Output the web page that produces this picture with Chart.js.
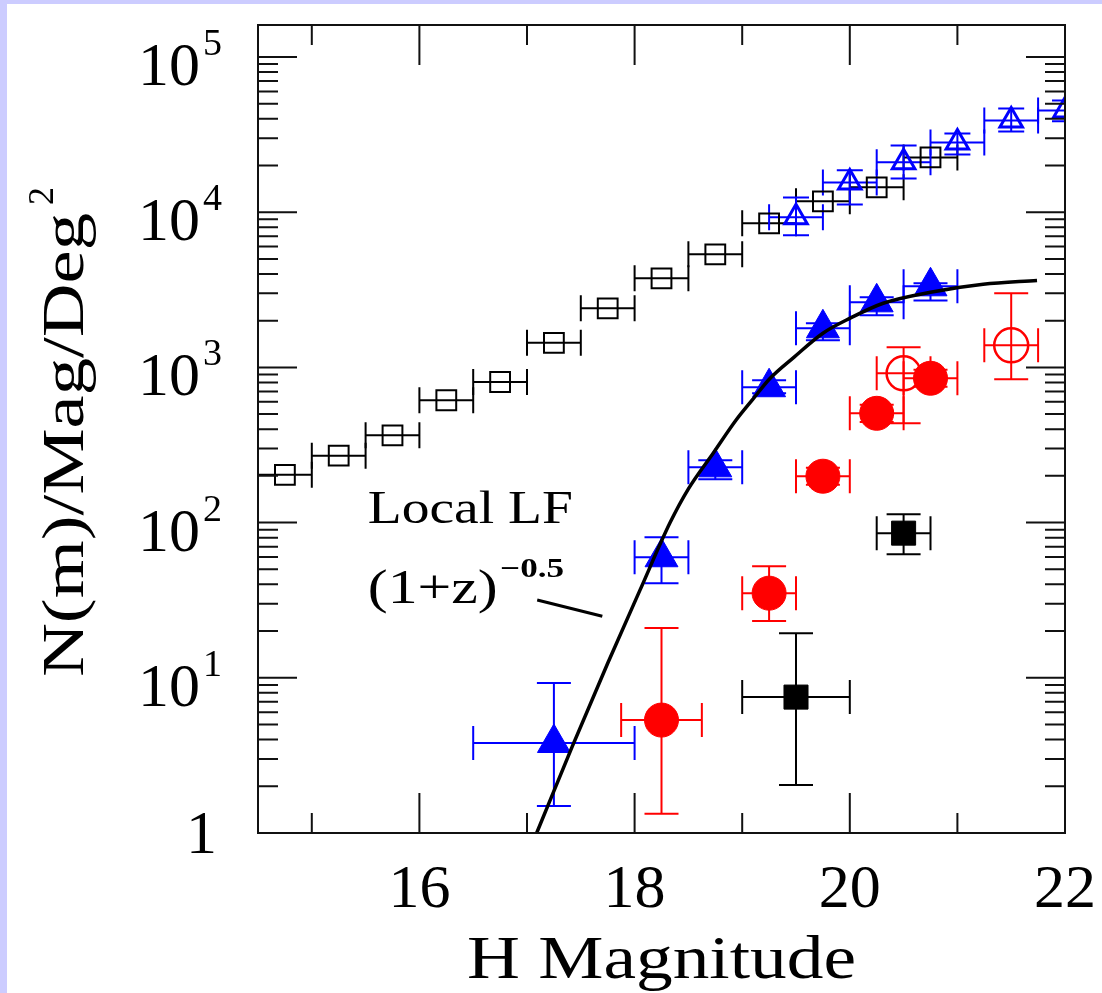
<!DOCTYPE html>
<html>
<head>
<meta charset="utf-8">
<script src="https://cdn.jsdelivr.net/npm/chart.js@4"></script>
<style>
  html, body { margin: 0; padding: 0; background: #fff; }
  canvas { display: block; }
</style>
</head>
<body>
<canvas id="c" width="1102" height="993"></canvas>
<script>
// ---- data ----
// all galaxies, open black squares
const allX = [14.75, 15.25, 15.75, 16.25, 16.75, 17.25, 17.75, 18.25, 18.75, 19.25, 19.75, 20.25, 20.75];
const allY = [203, 270, 365, 614, 805, 1440, 2400, 3750, 5350, 8470, 11740, 14450, 22540];

// deep counts, open blue triangles
const deepX = [19.5, 20.0, 20.5, 21.0, 21.5, 22.0];
const deepY = [9270, 15550, 20940, 28150, 39000, 45200];
const deepYLo = [7090, 11220, 16500, 23560, 33150, 38500];
const deepYHi = [12450, 18600, 26900, 32150, 46600, 52500];

// filled blue triangles
const triX = [17.25, 18.25, 18.75, 19.25, 19.75, 20.25, 20.75];
const triY = [3.8, 59.8, 227, 745, 1786, 2625, 3330];
const triXLo = [16.5, 18.0, 18.5, 19.0, 19.5, 20.0, 20.5];
const triXHi = [18.0, 18.5, 19.0, 19.5, 20.0, 20.5, 21.0];
const triYLo = [1.49, 40.7, 190, 681, 1495, 2165, 2700];
const triYHi = [9.25, 80.5, 252, 826, 1923, 2830, 3480];

// filled red circles
const redX = [18.25, 19.25, 19.75, 20.25, 20.75];
const redY = [5.34, 35.1, 199, 506, 851];
const redXLo = [17.875, 19.0, 19.5, 20.0, 20.5];
const redXHi = [18.625, 19.5, 20.0, 20.5, 21.0];
const redYLo = [1.33, 23.2, 175, 445, 750];
const redYHi = [20.9, 52.4, 226, 575, 965];

// open red circles
const redOpenX = [20.5, 21.5];
const redOpenY = [916, 1387];
const redOpenYLo = [437, 838];
const redOpenYHi = [1347, 3000];

// filled black squares
const blkX = [19.5, 20.5];
const blkY = [7.51, 85.5];
const blkXLo = [19.0, 20.25];
const blkXHi = [20.0, 20.75];
const blkYLo = [2.04, 62.6];
const blkYHi = [19.4, 113];

// local LF model curve
const lfX = [17.09, 17.42, 17.75, 18.05, 18.33, 18.5, 18.73, 18.94, 19.1, 19.26, 19.48, 19.75, 20.0, 20.31, 20.75, 21.24, 21.74];
const lfY = [1, 3.6, 12.4, 36.7, 100, 165, 280, 455, 625, 851, 1161, 1660, 2070, 2590, 3050, 3430, 3635];

// axes
const xTicks = [15, 16, 17, 18, 19, 20, 21, 22];
const xMajor = [16, 18, 20, 22];
const xTickLabels = ['16', '18', '20', '22'];
const yDecades = [1, 10, 100, 1000, 10000, 100000];
const yExpLabels = ['', '1', '2', '3', '4', '5'];

const FONT = '"Liberation Serif", "DejaVu Serif", serif';
const BLUE = '#0000ff', RED = '#ff0000', BLACK = '#000000';

const pts = (xs, ys) => xs.map((x, i) => ({x: x, y: ys[i]}));
const sym = (xs, w) => xs.map(x => x - w);
const symHi = (xs, w) => xs.map(x => x + w);

function drawFit(ctx, text, x, y, size, width, align, weight) {
  ctx.save();
  ctx.font = (weight || '') + ' ' + size + 'px ' + FONT;
  const w = ctx.measureText(text).width;
  const s = width ? width / w : 1;
  const tw = w * s;
  let x0 = x;
  if (align === 'center') x0 = x - tw / 2;
  else if (align === 'right') x0 = x - tw;
  ctx.translate(x0, y);
  ctx.scale(s, 1);
  ctx.textAlign = 'left';
  ctx.textBaseline = 'alphabetic';
  ctx.fillStyle = '#000';
  ctx.fillText(text, 0, 0);
  ctx.restore();
  return tw;
}

const background = {
  id: 'background',
  beforeDraw(chart) {
    const ctx = chart.ctx;
    ctx.save();
    ctx.fillStyle = '#fff';
    ctx.fillRect(0, 0, chart.width, chart.height);
    ctx.fillStyle = '#ccccff';
    ctx.fillRect(0, 0, chart.width, 4);
    ctx.fillRect(0, 0, 7, chart.height);
    ctx.restore();
  }
};

const errorBars = {
  id: 'errorBars',
  beforeDatasetsDraw(chart) {
    const ctx = chart.ctx, xs = chart.scales.x, ys = chart.scales.y, a = chart.chartArea;
    ctx.save();
    ctx.beginPath();
    ctx.rect(a.left, a.top, a.right - a.left, a.bottom - a.top);
    ctx.clip();
    chart.data.datasets.forEach(ds => {
      const e = ds.err;
      if (!e) return;
      ctx.strokeStyle = ds.borderColor;
      ctx.lineWidth = 2;
      const c = e.cap;
      ds.data.forEach((p, i) => {
        const px = xs.getPixelForValue(p.x), py = ys.getPixelForValue(p.y);
        ctx.beginPath();
        if (e.xLo) {
          const l = xs.getPixelForValue(e.xLo[i]), r = xs.getPixelForValue(e.xHi[i]);
          ctx.moveTo(l, py); ctx.lineTo(r, py);
          ctx.moveTo(l, py - c); ctx.lineTo(l, py + c);
          ctx.moveTo(r, py - c); ctx.lineTo(r, py + c);
        }
        if (e.yLo) {
          const t = ys.getPixelForValue(e.yHi[i]), b = ys.getPixelForValue(e.yLo[i]);
          ctx.moveTo(px, t); ctx.lineTo(px, b);
          ctx.moveTo(px - c, t); ctx.lineTo(px + c, t);
          ctx.moveTo(px - c, b); ctx.lineTo(px + c, b);
        }
        ctx.stroke();
      });
    });
    ctx.restore();
  }
};

const frame = {
  id: 'frame',
  afterDraw(chart) {
    const ctx = chart.ctx, xs = chart.scales.x, ys = chart.scales.y, a = chart.chartArea;
    ctx.save();
    ctx.strokeStyle = '#111';
    ctx.lineWidth = 2;
    ctx.strokeRect(a.left, a.top, a.right - a.left, a.bottom - a.top);
    ctx.beginPath();
    xTicks.forEach(v => {
      const px = xs.getPixelForValue(v);
      const len = xMajor.includes(v) ? 40 : 20;
      ctx.moveTo(px, a.bottom); ctx.lineTo(px, a.bottom - len);
      ctx.moveTo(px, a.top); ctx.lineTo(px, a.top + len);
    });
    yDecades.forEach(d => {
      for (let k = 1; k <= 9; k++) {
        const v = d * k;
        if (v > ys.max) break;
        const py = ys.getPixelForValue(v);
        const len = k === 1 ? 39 : 20;
        ctx.moveTo(a.left, py); ctx.lineTo(a.left + len, py);
        ctx.moveTo(a.right, py); ctx.lineTo(a.right - len, py);
      }
    });
    ctx.stroke();

    // tick labels
    xTickLabels.forEach((t, i) => {
      drawFit(ctx, t, xs.getPixelForValue(xMajor[i]), 907, 62, 0, 'center');
    });
    yDecades.forEach((d, i) => {
      const py = ys.getPixelForValue(d);
      if (i === 0) {
        drawFit(ctx, '1', 217, py + 20, 62, 0, 'right');
      } else {
        drawFit(ctx, yExpLabels[i], 222, py - 2, 38, 0, 'right');
        drawFit(ctx, '10', 200, py + 28, 62, 0, 'right');
      }
    });

    // axis titles
    drawFit(ctx, 'H Magnitude', (a.left + a.right) / 2, 978, 62, 389, 'center');
    ctx.save();
    ctx.translate(83, 677);
    ctx.rotate(-Math.PI / 2);
    drawFit(ctx, 'N(m)/Mag/Deg', 0, 0, 60, 464, 'left');
    drawFit(ctx, '2', 472, -30, 36, 0, 'left');
    ctx.restore();

    // model annotation
    const tx = xs.getPixelForValue(15.52);
    drawFit(ctx, 'Local LF', tx, ys.getPixelForValue(99), 46, 205, 'left');
    drawFit(ctx, '(1+z)', tx, ys.getPixelForValue(30.5), 48, 130, 'left');
    drawFit(ctx, '\u22120.5', xs.getPixelForValue(16.75), ys.getPixelForValue(44.5), 27, 64, 'left', 'bold');
    ctx.beginPath();
    ctx.lineWidth = 3;
    ctx.strokeStyle = '#000';
    ctx.moveTo(xs.getPixelForValue(17.095), ys.getPixelForValue(31.7));
    ctx.lineTo(xs.getPixelForValue(17.70), ys.getPixelForValue(24.9));
    ctx.stroke();
    ctx.restore();
  }
};

new Chart(document.getElementById('c'), {
  type: 'scatter',
  data: {
    datasets: [
      {
        type: 'line', data: pts(lfX, lfY), order: 0,
        borderColor: BLACK, borderWidth: 3.5, pointRadius: 0,
        cubicInterpolationMode: 'monotone', fill: false
      },
      {
        data: pts(allX, allY), order: 1, pointStyle: 'rect', pointRadius: 14,
        backgroundColor: 'rgba(0,0,0,0)', borderColor: BLACK, borderWidth: 2,
        err: {xLo: sym(allX, 0.25), xHi: symHi(allX, 0.25), cap: 13}
      },
      {
        data: pts(deepX, deepY), order: 2, pointStyle: 'triangle', pointRadius: 13,
        backgroundColor: 'rgba(0,0,0,0)', borderColor: BLUE, borderWidth: 3,
        err: {xLo: sym(deepX, 0.25), xHi: symHi(deepX, 0.25), yLo: deepYLo, yHi: deepYHi, cap: 13}
      },
      {
        data: pts(triX, triY), order: 3, pointStyle: 'triangle', pointRadius: 19,
        backgroundColor: BLUE, borderColor: BLUE, borderWidth: 1,
        err: {xLo: triXLo, xHi: triXHi, yLo: triYLo, yHi: triYHi, cap: 17}
      },
      {
        data: pts(redX, redY), order: 4, pointStyle: 'circle', pointRadius: 17,
        backgroundColor: RED, borderColor: RED, borderWidth: 1,
        err: {xLo: redXLo, xHi: redXHi, yLo: redYLo, yHi: redYHi, cap: 17}
      },
      {
        data: pts(redOpenX, redOpenY), order: 5, pointStyle: 'circle', pointRadius: 17,
        backgroundColor: 'rgba(0,0,0,0)', borderColor: RED, borderWidth: 2.5,
        err: {xLo: sym(redOpenX, 0.25), xHi: symHi(redOpenX, 0.25), yLo: redOpenYLo, yHi: redOpenYHi, cap: 17}
      },
      {
        data: pts(blkX, blkY), order: 6, pointStyle: 'rect', pointRadius: 17,
        backgroundColor: BLACK, borderColor: BLACK, borderWidth: 1,
        err: {xLo: blkXLo, xHi: blkXHi, yLo: blkYLo, yHi: blkYHi, cap: 17}
      }
    ]
  },
  options: {
    responsive: false,
    animation: false,
    devicePixelRatio: 1,
    layout: {padding: {left: 258, right: 37, top: 25, bottom: 160}},
    plugins: {legend: {display: false}, tooltip: {enabled: false}},
    scales: {
      x: {type: 'linear', min: 14.5, max: 22, display: false},
      y: {type: 'logarithmic', min: 1, max: 160700, display: false}
    }
  },
  plugins: [background, errorBars, frame]
});
</script>
</body>
</html>
